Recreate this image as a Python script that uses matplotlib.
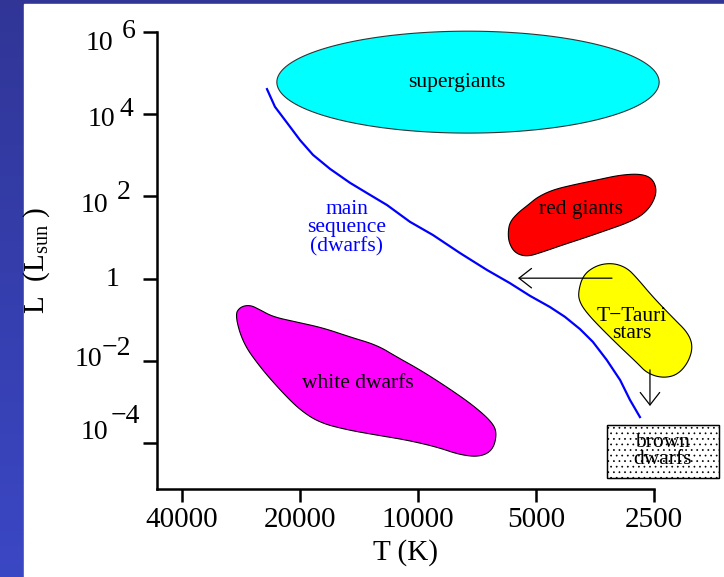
import numpy as np
import matplotlib
matplotlib.use('Agg')
import matplotlib.pyplot as plt
from matplotlib.patches import Rectangle

plt.rcParams['font.family'] = ['Liberation Serif', 'DejaVu Serif']
plt.rcParams['mathtext.fontset'] = 'custom'
plt.rcParams['mathtext.rm'] = 'Liberation Serif'
plt.rcParams['hatch.color'] = '#9a9a9a'
plt.rcParams['hatch.linewidth'] = 0.5

# x ticks (temperature, K)
t_ticks = [40000, 20000, 10000, 5000, 2500]
t_labels = ['40000', '20000', '10000', '5000', '2500']
# y ticks (log10 of luminosity)
l_exps = [6, 4, 2, 0, -2, -4]

# main sequence line
ms_T = [24280, 23170, 21580, 20000, 18530, 16770, 14910, 13490, 12000, 10480,
        9160, 7810, 6670, 5830, 5180, 4610, 4220, 3860, 3580, 3300, 3050, 2880, 2715]
ms_logL = [4.61, 4.18, 3.79, 3.37, 3.01, 2.67, 2.33, 2.08, 1.79, 1.38,
           1.06, 0.62, 0.21, -0.11, -0.42, -0.69, -0.93, -1.23, -1.54, -1.98, -2.47, -2.95, -3.37]

# red giants outline
red_T = [5893, 5826, 5558, 5241, 4942, 4525, 4023, 3494, 3053, 2715, 2530,
         2457, 2515, 2667, 2930, 3295, 3706, 4266, 4799, 5271, 5657, 5860]
red_logL = [1.13, 1.38, 1.60, 1.79, 1.99, 2.16, 2.28, 2.40, 2.52, 2.55, 2.45,
            2.16, 1.84, 1.55, 1.35, 1.18, 1.01, 0.82, 0.65, 0.53, 0.62, 0.87]

# T-Tauri outline
tt_T = [3907, 3793, 3494, 3180, 2930, 2762, 2515, 2234, 2047, 1988,
        2047, 2184, 2385, 2605, 2762, 3053, 3434, 3706, 3861]
tt_logL = [-0.35, 0.09, 0.33, 0.38, 0.26, 0.01, -0.45, -0.96, -1.32, -1.66,
           -2.05, -2.35, -2.42, -2.30, -2.05, -1.66, -1.18, -0.84, -0.59]

# white dwarfs outline
wd_T = [29300, 28450, 26830, 25300, 23440, 20350, 17470, 14910, 12720, 11310,
        9883, 8433, 7240, 6475, 6288, 6437, 6950, 7812, 8943, 10670,
        12720, 15180, 17780, 20000, 22490, 25300, 27950]
wd_logL = [-0.89, -0.69, -0.64, -0.76, -0.93, -1.06, -1.20, -1.42, -1.62, -1.91,
           -2.22, -2.64, -3.08, -3.49, -3.76, -4.17, -4.34, -4.29, -4.10, -3.93,
           -3.81, -3.68, -3.51, -3.20, -2.71, -2.15, -1.57]

# supergiants ellipse: centre and half sizes (octaves in T, decades in L)
sg_T, sg_logL = 7455, 4.78
sg_half_oct, sg_half_dec = 1.62, 1.24

# brown dwarfs box
bd_T = [3295, 1706]
bd_logL = [-3.56, -4.85]

# arrows (start, end)
arrow_h = [(3200, 0.01), (5558, 0.01)]
arrow_v = [(2560, -2.22), (2560, -3.10)]


def rounded(T, logL, n=3):
    # corner cutting so the hand-drawn blobs look smooth
    p = np.column_stack([np.log10(T), logL])
    for _ in range(n):
        nxt = np.roll(p, -1, axis=0)
        q = np.empty((2 * len(p), 2))
        q[0::2] = 0.75 * p + 0.25 * nxt
        q[1::2] = 0.25 * p + 0.75 * nxt
        p = q
    return 10 ** p[:, 0], 10 ** p[:, 1]


fig = plt.figure(figsize=(7.24, 5.77), dpi=100)

# blue frame with white panel
bg = fig.add_axes([0, 0, 1, 1], zorder=-10)
grad = np.linspace(0, 1, 256).reshape(-1, 1, 1)
top_c = np.array([0.19, 0.21, 0.59])
bot_c = np.array([0.23, 0.28, 0.77])
bg.imshow(top_c + (bot_c - top_c) * grad, aspect='auto', extent=[0, 1, 0, 1])
bg.add_patch(Rectangle((24 / 724, 0), 1, 1 - 4 / 577, color='white'))
bg.set_xlim(0, 1)
bg.set_ylim(0, 1)
bg.axis('off')

ax = fig.add_axes([157 / 724, 88 / 577, 497 / 724, 457 / 577])
ax.patch.set_alpha(0)
ax.set_xscale('log')
ax.set_yscale('log')
ax.set_xlim(46330, 2500)
ax.set_ylim(10 ** -5.12, 1e6)

for s in ['top', 'right']:
    ax.spines[s].set_visible(False)
for s in ['left', 'bottom']:
    ax.spines[s].set_linewidth(1.8)

ax.set_xticks(t_ticks)
ax.set_xticklabels(t_labels, fontsize=21)
ax.set_yticks([10.0 ** e for e in l_exps])
ax.set_yticklabels([''] * len(l_exps))
ax.minorticks_off()
ax.tick_params(axis='x', length=9, width=1.8, pad=4)
ax.tick_params(axis='y', length=10, width=1.8)

# y tick labels: "10" plus a raised exponent
ylab_off = {6: (-44, -11, -35, 0), 4: (-42, -5, -38, 5), 2: (-49, -9, -40, 4),
            -2: (-55, 1, -55, 12), -4: (-49, 10, -46, 26)}
ytr = ax.get_yaxis_transform()
for e in l_exps:
    if e == 0:
        ax.annotate('1', xy=(0, 1.0), xycoords=ytr, xytext=(-38, -1),
                    textcoords='offset pixels', ha='right', va='center',
                    fontsize=20, annotation_clip=False)
        continue
    bdx, bdy, edx, edy = ylab_off[e]
    ax.annotate('10', xy=(0, 10.0 ** e), xycoords=ytr, xytext=(bdx, bdy),
                textcoords='offset pixels', ha='right', va='center',
                fontsize=20, annotation_clip=False)
    ax.annotate(str(e).replace('-', '\u2212'), xy=(0, 10.0 ** e), xycoords=ytr,
                xytext=(edx, edy), textcoords='offset pixels', ha='left',
                va='center', fontsize=20, annotation_clip=False)

ax.set_xlabel('T (K)', fontsize=21, labelpad=4)
fig.text(37 / 724, 1 - 260 / 577, r'L  (L$_{\mathrm{sun}}$ )', rotation=90,
         fontsize=21, ha='center', va='center')

# main sequence
ax.plot(ms_T, 10.0 ** np.array(ms_logL), color='#0000ff', lw=1.6, zorder=3)
ax.text(15180, 10 ** 1.23, 'main\nsequence\n(dwarfs)', color='#0000ff',
        fontsize=15.5, ha='center', va='center', linespacing=0.95)

# supergiants
ang = np.linspace(0, 2 * np.pi, 200)
sg_x = sg_T * 2.0 ** (sg_half_oct * np.cos(ang))
sg_y = 10.0 ** (sg_logL + sg_half_dec * np.sin(ang))
ax.fill(sg_x, sg_y, facecolor='#00ffff', edgecolor='#333333', lw=0.8,
        clip_on=False, zorder=2)
ax.text(7950, 10 ** 4.78, 'supergiants', fontsize=15.5, ha='center', va='center')

# red giants
x, y = rounded(red_T, red_logL)
ax.fill(x, y, facecolor='#ff0000', edgecolor='black', lw=0.8,
        clip_on=False, zorder=2)
ax.text(3839, 10 ** 1.67, 'red giants', fontsize=15.5, ha='center', va='center')

# T-Tauri stars
x, y = rounded(tt_T, tt_logL)
ax.fill(x, y, facecolor='#ffff00', edgecolor='black', lw=0.8,
        clip_on=False, zorder=2)
ax.text(2846, 10 ** -1.13, 'T\u2212Tauri\nstars', fontsize=15.5, ha='center',
        va='center', linespacing=0.85)

# white dwarfs
x, y = rounded(wd_T, wd_logL)
ax.fill(x, y, facecolor='#ff00ff', edgecolor='black', lw=0.8,
        clip_on=False, zorder=2)
ax.text(14220, 10 ** -2.56, 'white dwarfs', fontsize=15.5, ha='center',
        va='center')

# brown dwarfs
bx = [bd_T[0], bd_T[1], bd_T[1], bd_T[0]]
by = 10.0 ** np.array([bd_logL[0], bd_logL[0], bd_logL[1], bd_logL[1]])
ax.fill(bx, by, facecolor='white', edgecolor='black', lw=0.9, hatch='...',
        clip_on=False, zorder=2)
ax.fill(bx, by, facecolor='none', edgecolor='black', lw=0.9,
        clip_on=False, zorder=2)
ax.text(2372, 10 ** -4.19, 'brown\ndwarfs', fontsize=15.5, ha='center',
        va='center', linespacing=0.85, zorder=4)

# evolution arrows
for a in [arrow_h, arrow_v]:
    (x0, y0), (x1, y1) = a
    ax.annotate('', xy=(x1, 10 ** y1), xytext=(x0, 10 ** y0),
                arrowprops=dict(arrowstyle='->,head_length=0.9,head_width=0.7',
                                lw=0.9, color='black', shrinkA=0, shrinkB=0,
                                mutation_scale=10),
                annotation_clip=False, zorder=4)

fig.savefig('out.png', dpi=100)
